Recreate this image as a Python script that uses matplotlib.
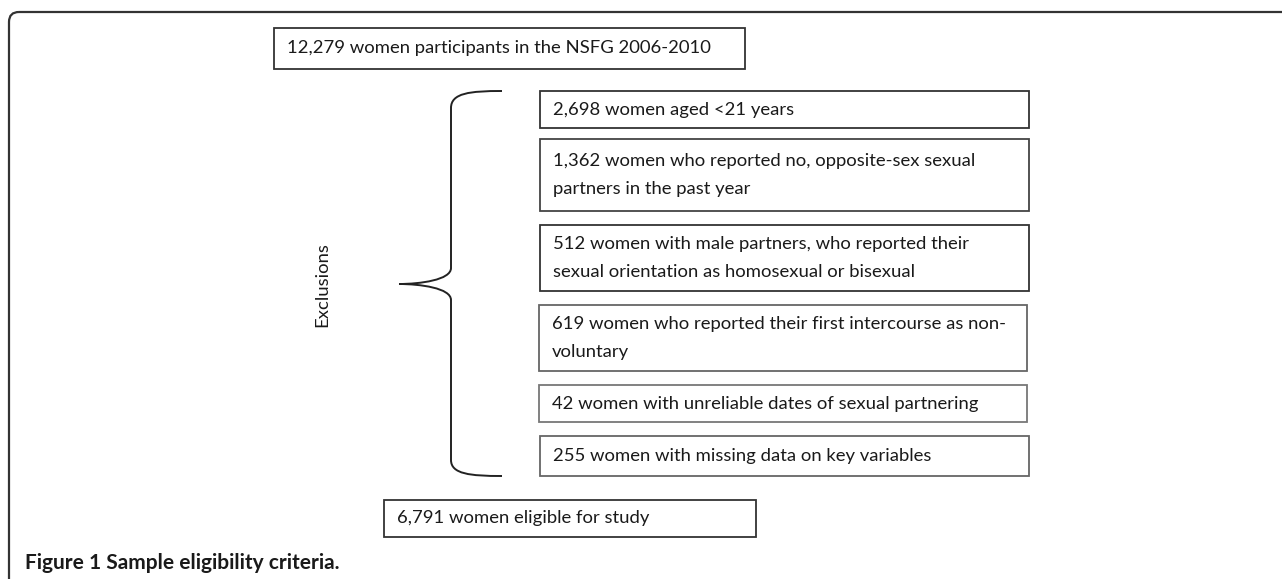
import matplotlib.pyplot as plt
from matplotlib.patches import FancyBboxPatch, Rectangle, PathPatch
from matplotlib.path import Path

# Tekster i flytdiagrammet
start_tekst = "12,279 women participants in the NSFG 2006-2010"
eksklusjoner = [
    "2,698 women aged <21 years",
    "1,362 women who reported no, opposite-sex sexual\npartners in the past year",
    "512 women with male partners, who reported their\nsexual orientation as homosexual or bisexual",
    "619 women who reported their first intercourse as non-\nvoluntary",
    "42 women with unreliable dates of sexual partnering",
    "255 women with missing data on key variables",
]
slutt_tekst = "6,791 women eligible for study"
brace_tekst = "Exclusions"
figur_tekst = "Figure 1 Sample eligibility criteria."

# Layout i piksler (x0, y0, x1, y1)
ekskl_bokser = [
    (540, 91, 1029, 128),
    (540, 139, 1029, 211),
    (540, 225, 1029, 291),
    (539, 305, 1027, 371),
    (539, 385, 1027, 422),
    (540, 436, 1029, 476),
]
kantfarger = ["#333333", "#444444", "#333333", "#666666", "#777777", "#666666"]

plt.rcParams['font.family'] = ['Lato', 'DejaVu Sans']

fig = plt.figure(figsize=(12.82, 5.79), dpi=100)
ax = fig.add_axes([0, 0, 1, 1])
ax.set_xlim(0, 1282)
ax.set_ylim(579, 0)
ax.axis("off")

# Ytre ramme med avrundet hjørne
ramme = FancyBboxPatch((9, 12), 1400, 700, boxstyle="round,pad=0,rounding_size=10",
                       fill=False, edgecolor="#333333", linewidth=1.6)
ax.add_patch(ramme)

fs = 13.3

def boks(x0, y0, x1, y1, tekst, farge="#333333"):
    ax.add_patch(Rectangle((x0, y0), x1 - x0, y1 - y0, fill=False,
                           edgecolor=farge, linewidth=1.3))
    ax.text(x0 + 13, (y0 + y1) / 2, tekst, ha="left", va="center",
            fontsize=fs, color="#1a1a1a", linespacing=1.85)

boks(274, 28, 745, 69, start_tekst)
for (x0, y0, x1, y1), tekst, farge in zip(ekskl_bokser, eksklusjoner, kantfarger):
    boks(x0, y0, x1, y1, tekst, farge)
boks(384, 500, 756, 537, slutt_tekst)

# Krøllparentes
xr, xv, xt = 502, 451, 399
yt, ym, yb = 91, 284, 476
verts = [
    (xr, yt), (470, yt), (xv, 93), (xv, 108),
    (xv, 268),
    (xv, 280), (420, 284), (xt, ym),
    (420, 284), (xv, 288), (xv, 300),
    (xv, 460),
    (xv, 474), (470, yb), (xr, yb),
]
codes = [Path.MOVETO, Path.CURVE4, Path.CURVE4, Path.CURVE4,
         Path.LINETO,
         Path.CURVE4, Path.CURVE4, Path.CURVE4,
         Path.CURVE4, Path.CURVE4, Path.CURVE4,
         Path.LINETO,
         Path.CURVE4, Path.CURVE4, Path.CURVE4]
ax.add_patch(PathPatch(Path(verts, codes), fill=False, edgecolor="#222222", linewidth=1.4))

ax.text(322, 285, brace_tekst, rotation=90, ha="center", va="center", fontsize=fs, color="#1a1a1a")

ax.text(25, 563, figur_tekst, ha="left", va="center", fontsize=15, fontweight="bold", color="#1a1a1a")

fig.savefig("out.png", dpi=100)
